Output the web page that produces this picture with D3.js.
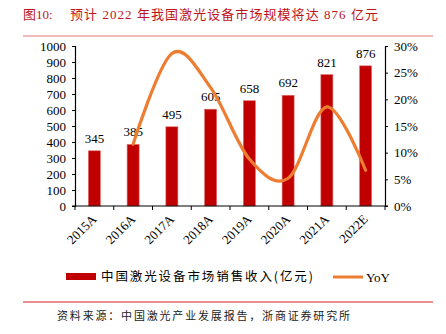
<!DOCTYPE html>
<html>
<head>
<meta charset="utf-8">
<script src="https://cdn.jsdelivr.net/npm/d3@7"></script>
<style>
  html, body { margin: 0; padding: 0; background: #fff; }
  svg { display: block; }
</style>
</head>
<body>
<svg id="chart" width="446" height="334"></svg>
<script>
// Market size of China's laser equipment (100 million CNY) and year-on-year growth
const years = ["2015A", "2016A", "2017A", "2018A", "2019A", "2020A", "2021A", "2022E"];
const revenue = [345, 385, 495, 605, 658, 692, 821, 876];
const yoy = [null, 0.116, 0.286, 0.222, 0.088, 0.052, 0.186, 0.067];
const leftTicks = [0, 100, 200, 300, 400, 500, 600, 700, 800, 900, 1000];
const rightTicks = [0, 0.05, 0.10, 0.15, 0.20, 0.25, 0.30];

const serif = "'Liberation Serif', 'Times New Roman', serif";
const cjk = "'Noto Sans CJK SC', sans-serif";
const red = "#c00000";
const orange = "#ed7d31";

const svg = d3.select("#chart");

// Title and rules
const titleFont = serif + "," + cjk;
svg.append("text")
  .attr("x", 23).attr("y", 19)
  .attr("fill", "#c0141c")
  .style("font-size", "13px").style("font-family", titleFont)
  .text("图10:");
svg.append("text")
  .attr("x", 70).attr("y", 19)
  .attr("fill", "#c0141c")
  .attr("textLength", 308).attr("lengthAdjust", "spacing")
  .style("font-size", "13px").style("font-family", titleFont)
  .text("预计 2022 年我国激光设备市场规模将达 876 亿元");
svg.append("line").attr("x1", 23).attr("x2", 433).attr("y1", 36).attr("y2", 36)
  .attr("stroke", "#e8a3a3").attr("stroke-width", 1.5);

const plotL = 75, plotR = 385, plotT = 46, plotB = 206;

const x = d3.scaleBand().domain(years).range([plotL, plotR]).paddingInner(0.69).paddingOuter(0.345);
const xTick = d3.scaleBand().domain(years).range([plotL, plotR]);
const y = d3.scaleLinear().domain([0, 1000]).range([plotB, plotT]);
const y2 = d3.scaleLinear().domain([0, 0.30]).range([plotB, plotT]);

// Bars
svg.append("g").selectAll("rect").data(years).join("rect")
  .attr("x", d => x(d))
  .attr("y", (d, i) => y(revenue[i]))
  .attr("width", x.bandwidth())
  .attr("height", (d, i) => plotB - y(revenue[i]))
  .attr("fill", red)
  .attr("stroke", "#e06c6c").attr("stroke-width", 0.6);

// Value labels
svg.append("g").selectAll("text").data(years).join("text")
  .attr("x", d => x(d) + x.bandwidth() / 2)
  .attr("y", (d, i) => y(revenue[i]) - 8)
  .attr("text-anchor", "middle")
  .style("font-family", serif).style("font-size", "13px").attr("fill", "#000")
  .text((d, i) => revenue[i]);

// YoY smoothed line
const pts = years.map((d, i) => [xTick(d) + xTick.bandwidth() / 2, yoy[i]]).filter(p => p[1] !== null);
svg.append("path")
  .attr("d", d3.line().x(p => p[0]).y(p => y2(p[1])).curve(d3.curveCatmullRom.alpha(0))(pts))
  .attr("fill", "none").attr("stroke", orange).attr("stroke-width", 3.2)
  .attr("stroke-linecap", "round");

// Left axis
const axL = svg.append("g").attr("transform", `translate(${plotL},0)`)
  .call(d3.axisLeft(y).tickValues(leftTicks).tickSize(3).tickPadding(6).tickFormat(d3.format("d")));
// Right axis
const axR = svg.append("g").attr("transform", `translate(${plotR},0)`)
  .call(d3.axisRight(y2).tickValues(rightTicks).tickSize(3).tickPadding(6).tickFormat(d3.format(".0%")));
// Bottom axis
const axB = svg.append("g").attr("transform", `translate(0,${plotB})`)
  .call(d3.axisBottom(xTick).tickSize(0).tickFormat(""));
axB.selectAll(".tick").remove();
axB.selectAll("path.domain").remove();
axB.selectAll("line.sep").data(years.concat(["end"])).join("line")
  .attr("class", "sep")
  .attr("x1", (d, i) => plotL + i * xTick.step()).attr("x2", (d, i) => plotL + i * xTick.step())
  .attr("y1", 0).attr("y2", 4).attr("stroke", "#000");
axB.append("line").attr("x1", plotL - 3).attr("x2", plotR + 3).attr("y1", 0).attr("y2", 0)
  .attr("stroke", "#000").attr("stroke-width", 1.2);

[axL, axR].forEach(a => {
  a.selectAll("path.domain").attr("stroke", "#000").attr("stroke-width", 1.2);
  a.selectAll(".tick line").attr("stroke", "#000");
  a.selectAll("text").style("font-family", serif).style("font-size", "13px").attr("fill", "#000");
});

// Rotated category labels
svg.append("g").selectAll("text").data(years).join("text")
  .attr("transform", d => `translate(${xTick(d) + xTick.bandwidth() / 2 + 3},${plotB + 14}) rotate(-45)`)
  .attr("text-anchor", "end")
  .style("font-family", serif).style("font-size", "13px").attr("fill", "#000")
  .text(d => d);

// Legend
const lg = svg.append("g");
lg.append("rect").attr("x", 66).attr("y", 273).attr("width", 30).attr("height", 7).attr("fill", red);
lg.append("text").attr("x", 101).attr("y", 281)
  .attr("textLength", 212).attr("lengthAdjust", "spacing")
  .style("font-family", cjk + "," + serif).style("font-size", "12.5px").attr("fill", "#000")
  .text("中国激光设备市场销售收入(亿元)");
lg.append("line").attr("x1", 333).attr("x2", 363).attr("y1", 277).attr("y2", 277)
  .attr("stroke", orange).attr("stroke-width", 3);
lg.append("text").attr("x", 366).attr("y", 282)
  .style("font-family", serif).style("font-size", "13px").attr("fill", "#000")
  .text("YoY");

// Footer
svg.append("line").attr("x1", 23).attr("x2", 433).attr("y1", 302).attr("y2", 302)
  .attr("stroke", "#d02020").attr("stroke-width", 1);
svg.append("text").attr("x", 57).attr("y", 320)
  .attr("textLength", 293).attr("lengthAdjust", "spacing")
  .style("font-family", cjk).style("font-size", "11px").attr("fill", "#222")
  .text("资料来源：中国激光产业发展报告，浙商证券研究所");
</script>
</body>
</html>
